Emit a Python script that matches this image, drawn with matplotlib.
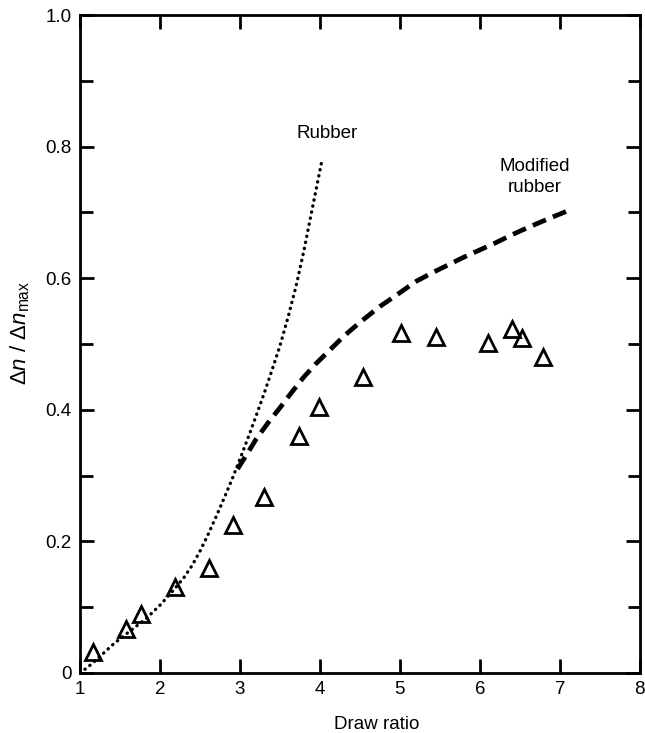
import numpy as np
import matplotlib
matplotlib.use("Agg")
import matplotlib.pyplot as plt
from matplotlib.ticker import MultipleLocator, FixedLocator, FixedFormatter

plt.rcParams['font.family'] = ['Liberation Sans', 'DejaVu Sans']
plt.rcParams['mathtext.fontset'] = 'custom'
plt.rcParams['mathtext.rm'] = 'Liberation Sans'
plt.rcParams['mathtext.it'] = 'Liberation Sans:italic'

# measured birefringence (triangles)
draw_ratio = [1.16, 1.575, 1.76, 2.19, 2.61, 2.91, 3.30, 3.74, 3.99, 4.54,
              5.02, 5.45, 6.10, 6.40, 6.53, 6.79]
biref = [0.032, 0.067, 0.090, 0.131, 0.160, 0.225, 0.268, 0.360, 0.404, 0.450,
         0.517, 0.511, 0.502, 0.523, 0.509, 0.480]

# rubber model curve
rubber_x = [1.0, 1.1, 1.25, 1.4, 1.5, 1.65, 1.83, 2.0, 2.17, 2.3, 2.4, 2.5,
            2.6, 2.7, 2.8, 2.9, 3.0, 3.1, 3.2, 3.3, 3.4, 3.5, 3.6, 3.7, 3.8,
            3.9, 4.03]
rubber_y = [0.0, 0.009, 0.025, 0.042, 0.052, 0.066, 0.083, 0.103, 0.126,
            0.145, 0.163, 0.185, 0.21, 0.237, 0.265, 0.294, 0.325, 0.357,
            0.39, 0.424, 0.46, 0.497, 0.54, 0.587, 0.642, 0.703, 0.782]

# modified rubber model curve
mod_x = [2.97, 3.1, 3.2, 3.35, 3.5, 3.65, 3.8, 3.95, 4.1, 4.3, 4.5, 4.75,
         5.0, 5.2, 5.4, 5.6, 5.8, 6.0, 6.2, 6.4, 6.6, 6.85, 7.15]
mod_y = [0.31, 0.335, 0.355, 0.38, 0.403, 0.427, 0.45, 0.47, 0.488, 0.512,
         0.533, 0.557, 0.578, 0.595, 0.608, 0.62, 0.632, 0.643, 0.654, 0.666,
         0.677, 0.69, 0.705]

y_ticks = [0, 0.2, 0.4, 0.6, 0.8, 1.0]
y_ticklabels = ['0', '0.2', '0.4', '0.6', '0.8', '1.0']

fig = plt.figure(figsize=(6.45, 7.33), dpi=100)
ax = fig.add_axes([0.124, 0.0819, 0.868, 0.8976])

ax.plot(rubber_x, rubber_y, color='black', lw=2.4, linestyle=(0, (0.1, 1.75)),
        dash_capstyle='round', solid_joinstyle='round')
ax.plot(mod_x, mod_y, color='black', lw=3.4, linestyle=(0, (3.0, 1.6)),
        dash_capstyle='butt')
ax.plot(draw_ratio, biref, linestyle='none', marker='^', markersize=11,
        markerfacecolor='none', markeredgecolor='black', markeredgewidth=2.0)

ax.text(4.09, 0.82, 'Rubber', fontsize=13.5, ha='center', va='center')
ax.text(6.68, 0.754, 'Modified\nrubber', fontsize=13.5, ha='center',
        va='center', linespacing=1.25)

ax.set_xlim(1, 8)
ax.set_ylim(0, 1.0)
ax.xaxis.set_major_locator(MultipleLocator(1))
ax.yaxis.set_major_locator(FixedLocator(y_ticks))
ax.yaxis.set_major_formatter(FixedFormatter(y_ticklabels))
ax.yaxis.set_minor_locator(MultipleLocator(0.1))

ax.tick_params(which='both', direction='in', top=True, right=True,
               width=2, labelsize=13.5, pad=6)
ax.tick_params(which='major', length=10)
ax.tick_params(which='minor', length=9)
ax.tick_params(axis='x', which='minor', bottom=False, top=False)

for sp in ax.spines.values():
    sp.set_linewidth(2)

ax.set_xlabel('Draw ratio', fontsize=13.5)
ax.xaxis.set_label_coords(0.53, -0.066)
ax.set_ylabel(r'$\Delta n\ /\ \Delta n_{\mathrm{max}}$', fontsize=16)
ax.yaxis.set_label_coords(-0.086, 0.517)

fig.savefig('out.png', dpi=100)
